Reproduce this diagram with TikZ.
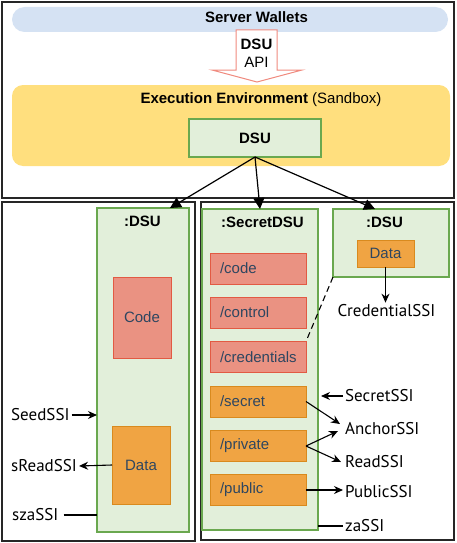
\documentclass[tikz,border=0pt]{standalone}
\usepackage{fontspec}
\setmainfont{Liberation Sans}
\newfontfamily\ssifont{PT Sans}
\usetikzlibrary{arrows.meta,calc}
\definecolor{blueF}{HTML}{D5E2F3}
\definecolor{yelF}{HTML}{FFDF7E}
\definecolor{grnF}{HTML}{E2EFDA}
\definecolor{grnD}{HTML}{6AA84F}
\definecolor{salF}{HTML}{EA9282}
\definecolor{salD}{HTML}{E25A43}
\definecolor{orF}{HTML}{F0A443}
\definecolor{orD}{HTML}{D98A1E}
\definecolor{txtC}{HTML}{2E4660}
\definecolor{arrD}{HTML}{F08A7E}
\newcommand\cbox[6]{\node[#1, minimum width={(#5)-(#3)}, minimum height={(#6)-(#4)}] (#2) at ({((#3)+(#5))/2},{((#4)+(#6))/2})}
\tikzset{
  frame/.style={draw=black!85, line width=1.3pt, inner sep=0pt, outer sep=0pt},
  gbox/.style={draw=grnD, fill=grnF, line width=1.1pt, inner sep=0pt, outer sep=0pt},
  sbox/.style={draw=salD, fill=salF, line width=1pt, inner sep=0pt, outer sep=0pt, text=txtC, font=\fontsize{15}{17}\selectfont},
  obox/.style={draw=orD, fill=orF, line width=1pt, inner sep=0pt, outer sep=0pt, text=txtC, font=\fontsize{15}{17}\selectfont},
  item/.style={minimum height=31pt, text width=76pt, inner xsep=10pt, inner ysep=0pt, align=left, outer sep=0pt, line width=1pt, text=txtC, font=\fontsize{15}{17}\selectfont},
  sitem/.style={item, draw=salD, fill=salF},
  oitem/.style={item, draw=orD, fill=orF},
  title/.style={font=\fontsize{15}{17}\selectfont\bfseries, inner sep=0pt},
  plain/.style={font=\fontsize{15}{17}\selectfont, inner sep=0pt},
  ssi/.style={font=\ssifont\fontsize{17}{19}\selectfont, inner sep=2pt},
  bigarrow/.style={line width=1.2pt, -{Triangle[length=11pt,width=11pt]}},
  ssiarrow/.style={line width=1.1pt, -{Stealth[length=9pt,width=8pt]}},
  ssiline/.style={line width=1.1pt},
}
\begin{document}
\begin{tikzpicture}[x=1pt,y=-1pt]
\useasboundingbox (0,0) rectangle (457,543);
% top frame
\cbox{frame}{topframe}{2}{2}{454}{198} {};
\cbox{draw=none, fill=blueF, rounded corners=12.5pt, inner sep=0pt}{wallets}{12}{7}{448}{32} {};
\node[title] (walletsT) at (256.5,17) {Server Wallets};
\draw[draw=arrD, fill=white, line width=1pt] (236,30) -- (277,30) -- (277,70) -- (302,70) -- (257,82) -- (212,70) -- (236,70) -- cycle;
\node[title] (apiA) at (256.5,44.5) {DSU};
\node[plain] (apiB) at (256.5,62.5) {API};
\cbox{draw=none, fill=yelF, rounded corners=11pt, inner sep=0pt}{exec}{12}{85}{450}{166} {};
\node[inner sep=0pt, anchor=base, font=\fontsize{15}{17}\selectfont] (execT) at (261,103) {\textbf{Execution Environment} (Sandbox)};
\cbox{gbox, font=\fontsize{15}{17}\selectfont\bfseries}{dsu}{189}{119}{321}{157} {DSU};
% bottom frames
\cbox{frame}{leftframe}{2}{202}{195}{541} {};
\cbox{frame}{rightframe}{201}{202}{454}{540} {};
% left DSU
\cbox{gbox}{ldsu}{97}{208}{189}{532} {};
\node[title] (ldsuT) at (142.5,221.5) {:DSU};
\cbox{sbox}{code}{113}{277}{171}{358} {Code};
\cbox{obox}{ldata}{112}{426}{170}{504} {Data};
\node[ssi, anchor=west] (seed) at (9,415) {SeedSSI};
\node[ssi, anchor=west] (sread) at (9,466) {sReadSSI};
\node[ssi, anchor=west] (sza) at (10,515) {szaSSI};
\draw[ssiarrow] (seed.east) -- (seed.east -| ldsu.west);
\draw[ssiarrow] (ldata.west) -- (sread.east);
\draw[ssiline] ([xshift=3pt]sza.east) -- (sza.east -| ldsu.west);
% secret DSU
\cbox{gbox}{sdsu}{202}{209}{318}{530} {};
\node[title] (sdsuT) at (262.5,222.5) {:SecretDSU};
\node[sitem] (icode) at (258,268.5) {/code};
\node[sitem] (icontrol) at (258,312.5) {/control};
\node[sitem] (icred) at (258,357) {/credentials};
\node[oitem] (isecret) at (258,401.5) {/secret};
\node[oitem] (iprivate) at (258,446) {/private};
\node[oitem] (ipublic) at (258,490) {/public};
% right DSU
\cbox{gbox}{rdsu}{333}{209}{449}{277} {};
\node[title] (rdsuT) at (384.5,222.5) {:DSU};
\cbox{obox}{rdata}{357}{240}{414}{267} {Data};
\node[ssi] (cred) at (386.5,311) {CredentialSSI};
\draw[ssiarrow] (rdata.south) -- (rdata.south |- cred.north);
\draw[line width=1.1pt, dashed, dash pattern=on 6pt off 4pt] (rdsu.south west) -- (icred.north east);
% SSI labels right
\node[ssi, anchor=west] (secretssi) at (343,396) {SecretSSI};
\node[ssi, anchor=west] (anchorssi) at (343,429) {AnchorSSI};
\node[ssi, anchor=west] (readssi) at (343,462) {ReadSSI};
\node[ssi, anchor=west] (publicssi) at (343,492) {PublicSSI};
\node[ssi, anchor=west] (zassi) at (343,526) {zaSSI};
\draw[ssiarrow] (secretssi.west) -- ([xshift=3pt]secretssi.west -| sdsu.east);
\draw[ssiarrow] (isecret.east) -- ([xshift=-3pt,yshift=5pt]anchorssi.west);
\draw[ssiarrow] (iprivate.east) -- ([xshift=-5pt,yshift=-2pt]anchorssi.west);
\draw[ssiarrow] (iprivate.east) -- ([xshift=-2pt]readssi.west);
\draw[ssiarrow] (ipublic.east) -- (ipublic.east -| publicssi.west);
\draw[ssiline] (zassi.west) -- (zassi.west -| sdsu.east);
% connectors from DSU
\draw[bigarrow] (dsu.south) -- ([xshift=27pt]ldsu.north);
\draw[bigarrow] (dsu.south) -- (sdsu.north);
\draw[bigarrow] (dsu.south) -- ([xshift=-16pt]rdsu.north);
\end{tikzpicture}
\end{document}
